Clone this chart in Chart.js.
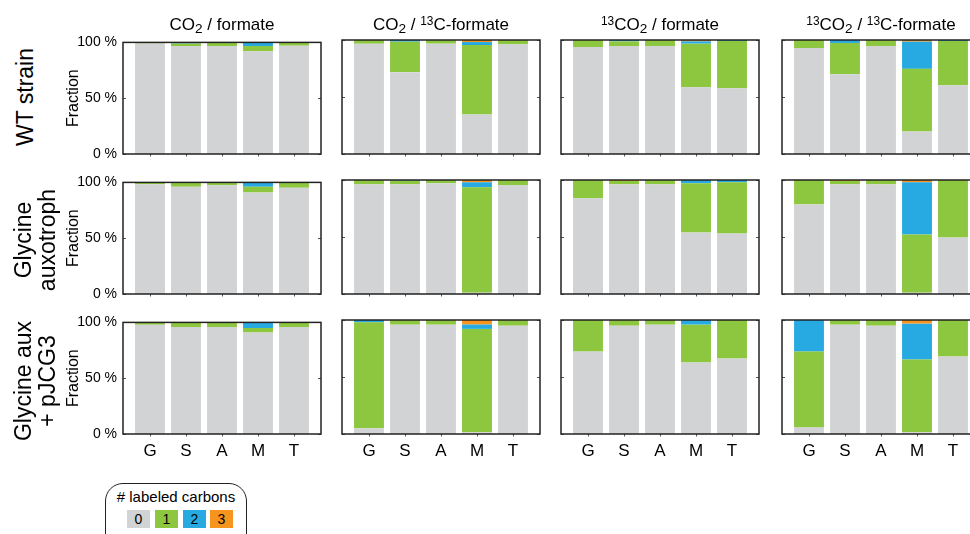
<!DOCTYPE html>
<html>
<head>
<meta charset="utf-8">
<script src="https://cdn.jsdelivr.net/npm/chart.js@4/dist/chart.umd.min.js"></script>
<style>
  html, body { margin: 0; padding: 0; overflow: hidden; background: #fff; }
  body { width: 970px; height: 534px; position: relative; font-family: "Liberation Sans", Arial, sans-serif; color: #000; }
  canvas { position: absolute; }
  .coltitle { position: absolute; top: 15px; width: 198px; text-align: center; font-size: 17px; line-height: 20px; white-space: nowrap; }
  .coltitle sub { font-size: 0.8em; vertical-align: -0.25em; line-height: 0; }
  .coltitle sup { font-size: 0.7em; vertical-align: 0.45em; line-height: 0; }
  .rowlabel { position: absolute; font-size: 23px; line-height: 24px; text-align: center; white-space: nowrap;
              transform: translate(-50%, -50%) rotate(-90deg); }
  .legend { position: absolute; left: 105px; top: 483px; width: 140px; height: 70px; border: 1.5px solid #222; border-radius: 18px; }
  .legend .ttl { position: absolute; left: 0; right: 0; top: 4px; text-align: center; font-size: 15px; }
  .sw { position: absolute; top: 510px; width: 23px; height: 18px; text-align: center; font-size: 14px; line-height: 18px; }
</style>
</head>
<body>
<script>
// amino acids on the x axis
const aminoAcids = ['G', 'S', 'A', 'M', 'T'];
const yTicks = [0, 50, 100];
const carbonLabels = ['0', '1', '2', '3'];
const carbonColors = ['#D1D3D4', '#8DC63F', '#27AAE1', '#F7941D'];

const conditions = [
  'CO<sub>2</sub> / formate',
  'CO<sub>2</sub> / <sup>13</sup>C-formate',
  '<sup>13</sup>CO<sub>2</sub> / formate',
  '<sup>13</sup>CO<sub>2</sub> / <sup>13</sup>C-formate'
];
const strains = ['WT strain', 'Glycine<br>auxotroph', 'Glycine aux<br>+ pJCG3'];

// fraction (%) with 0 / 1 / 2 / 3 labeled carbons, per amino acid
// WT strain
const wt_a_m0 = [99.1, 96.7, 96.7, 92.0, 97.0];
const wt_a_m1 = [0.9, 2.3, 3.3, 4.7, 3.0];
const wt_a_m2 = [0, 1.0, 0, 3.3, 0];
const wt_a_m3 = [0, 0, 0, 0, 0];

const wt_b_m0 = [96.7, 71.8, 96.8, 34.7, 96.2];
const wt_b_m1 = [3.3, 26.7, 3.2, 60.9, 3.8];
const wt_b_m2 = [0, 1.5, 0, 2.6, 0];
const wt_b_m3 = [0, 0, 0, 1.8, 0];

const wt_c_m0 = [93.8, 94.7, 94.7, 58.5, 57.6];
const wt_c_m1 = [6.2, 4.1, 5.3, 38.3, 41.5];
const wt_c_m2 = [0, 1.2, 0, 2.0, 0.9];
const wt_c_m3 = [0, 0, 0, 1.2, 0];

const wt_d_m0 = [92.9, 70.0, 94.7, 19.7, 60.3];
const wt_d_m1 = [7.1, 27.4, 5.3, 55.0, 38.8];
const wt_d_m2 = [0, 2.6, 0, 23.8, 0.9];
const wt_d_m3 = [0, 0, 0, 1.5, 0];

// glycine auxotroph
const aux_a_m0 = [98.3, 96.2, 97.4, 90.9, 95.3];
const aux_a_m1 = [1.7, 3.5, 2.6, 5.3, 4.7];
const aux_a_m2 = [0, 0.3, 0, 3.8, 0];
const aux_a_m3 = [0, 0, 0, 0, 0];

const aux_b_m0 = [96.2, 96.2, 97.1, 1.2, 95.3];
const aux_b_m1 = [3.8, 3.2, 2.9, 92.4, 4.7];
const aux_b_m2 = [0, 0.6, 0, 4.4, 0];
const aux_b_m3 = [0, 0, 0, 2.0, 0];

const aux_c_m0 = [83.9, 96.2, 96.2, 54.0, 53.1];
const aux_c_m1 = [16.1, 2.9, 3.8, 43.1, 44.9];
const aux_c_m2 = [0, 0, 0, 2.9, 2.0];
const aux_c_m3 = [0, 0.9, 0, 0, 0];

const aux_d_m0 = [78.6, 96.2, 96.2, 1.2, 49.6];
const aux_d_m1 = [21.4, 2.9, 3.8, 51.1, 50.4];
const aux_d_m2 = [0, 0, 0, 45.7, 0];
const aux_d_m3 = [0, 0.9, 0, 2.0, 0];

// glycine auxotroph + pJCG3
const pj_a_m0 = [98.0, 95.9, 95.9, 91.0, 95.9];
const pj_a_m1 = [2.0, 4.1, 4.1, 4.0, 4.1];
const pj_a_m2 = [0, 0, 0, 5.0, 0];
const pj_a_m3 = [0, 0, 0, 0, 0];

const pj_b_m0 = [5.0, 95.9, 95.9, 1.5, 95.0];
const pj_b_m1 = [93.0, 4.1, 4.1, 90.7, 5.0];
const pj_b_m2 = [2.0, 0, 0, 3.8, 0];
const pj_b_m3 = [0, 0, 0, 4.0, 0];

const pj_c_m0 = [72.3, 95.0, 95.9, 62.7, 66.2];
const pj_c_m1 = [27.7, 5.0, 4.1, 33.2, 33.8];
const pj_c_m2 = [0, 0, 0, 4.1, 0];
const pj_c_m3 = [0, 0, 0, 0, 0];

const pj_d_m0 = [5.8, 95.9, 95.0, 1.5, 67.9];
const pj_d_m1 = [66.5, 4.1, 5.0, 63.8, 32.1];
const pj_d_m2 = [27.7, 0, 0, 31.5, 0];
const pj_d_m3 = [0, 0, 0, 3.2, 0];

const panels = [
  [[wt_a_m0, wt_a_m1, wt_a_m2, wt_a_m3], [wt_b_m0, wt_b_m1, wt_b_m2, wt_b_m3],
   [wt_c_m0, wt_c_m1, wt_c_m2, wt_c_m3], [wt_d_m0, wt_d_m1, wt_d_m2, wt_d_m3]],
  [[aux_a_m0, aux_a_m1, aux_a_m2, aux_a_m3], [aux_b_m0, aux_b_m1, aux_b_m2, aux_b_m3],
   [aux_c_m0, aux_c_m1, aux_c_m2, aux_c_m3], [aux_d_m0, aux_d_m1, aux_d_m2, aux_d_m3]],
  [[pj_a_m0, pj_a_m1, pj_a_m2, pj_a_m3], [pj_b_m0, pj_b_m1, pj_b_m2, pj_b_m3],
   [pj_c_m0, pj_c_m1, pj_c_m2, pj_c_m3], [pj_d_m0, pj_d_m1, pj_d_m2, pj_d_m3]]
];

// layout of the plot areas (px)
const colLeft = [123, 342, 561, 782];
const rowTop = [40, 180, 320];
const plotW = 198, plotH = 114;
const AXIS_W = 63, AXIS_H = 30, PAD_T = 12, PAD_R = 12;

// box around each plot with small tick marks
const framePlugin = {
  id: 'frame',
  afterDatasetsDraw(chart) {
    const { ctx, chartArea: a, scales: { x, y } } = chart;
    ctx.save();
    ctx.strokeStyle = '#555';
    ctx.lineWidth = 1;
    ctx.beginPath();
    x.ticks.forEach(t => {
      const px = Math.round(x.getPixelForValue(t.value)) + 0.5;
      ctx.moveTo(px, a.bottom); ctx.lineTo(px, a.bottom + 2.5);
    });
    y.ticks.forEach(t => {
      const py = Math.round(y.getPixelForValue(t.value)) + 0.5;
      ctx.moveTo(a.left, py); ctx.lineTo(a.left + 3, py);
      ctx.moveTo(a.right, py); ctx.lineTo(a.right - 3, py);
    });
    ctx.stroke();
    ctx.strokeStyle = '#222';
    ctx.lineWidth = 1.5;
    ctx.strokeRect(a.left, a.top, a.right - a.left, a.bottom - a.top);
    ctx.restore();
  }
};

function makePanel(r, c) {
  const canvas = document.createElement('canvas');
  const w = plotW + AXIS_W + PAD_R, h = plotH + PAD_T + AXIS_H;
  canvas.width = w; canvas.height = h;
  canvas.style.left = (colLeft[c] - AXIS_W) + 'px';
  canvas.style.top = (rowTop[r] - PAD_T) + 'px';
  canvas.style.width = w + 'px'; canvas.style.height = h + 'px';
  document.body.appendChild(canvas);

  const showY = c === 0, showX = r === 2;
  new Chart(canvas, {
    type: 'bar',
    data: {
      datasets: panels[r][c].map((vals, k) => ({
        label: carbonLabels[k],
        data: vals.map((v, i) => ({ x: i + 1, y: v })),
        backgroundColor: carbonColors[k],
        borderWidth: 0,
        categoryPercentage: 1,
        barPercentage: 0.83
      }))
    },
    options: {
      responsive: false,
      animation: false,
      devicePixelRatio: 1,
      layout: { padding: { top: PAD_T, right: PAD_R, left: 0, bottom: 0 } },
      plugins: { legend: { display: false }, tooltip: { enabled: false } },
      scales: {
        x: {
          type: 'linear', stacked: true, offset: false, min: 0.25, max: 5.75,
          grid: { display: false, drawTicks: false }, border: { display: false },
          afterBuildTicks: s => { s.ticks = aminoAcids.map((_, i) => ({ value: i + 1 })); },
          afterFit: s => { s.height = AXIS_H; },
          ticks: {
            display: showX, padding: 7, color: '#000', autoSkip: false, maxRotation: 0,
            font: { family: '"Liberation Sans", Arial, sans-serif', size: 17 },
            callback: v => aminoAcids[v - 1] ?? ''
          }
        },
        y: {
          stacked: true, min: 0, max: 100,
          grid: { display: false, drawTicks: false }, border: { display: false },
          afterBuildTicks: s => { s.ticks = yTicks.map(v => ({ value: v })); },
          afterFit: s => { s.width = AXIS_W; },
          ticks: {
            display: showY, padding: 6, color: '#000',
            font: { family: '"Liberation Sans", Arial, sans-serif', size: 14 },
            callback: v => v + ' %'
          },
          title: {
            display: showY, text: 'Fraction', color: '#000', padding: { top: 4, bottom: 0 },
            font: { family: '"Liberation Sans", Arial, sans-serif', size: 16 }
          }
        }
      }
    },
    plugins: [framePlugin]
  });
}

for (let r = 0; r < 3; r++) {
  for (let c = 0; c < 4; c++) makePanel(r, c);
}

// column titles
conditions.forEach((t, c) => {
  const d = document.createElement('div');
  d.className = 'coltitle';
  d.style.left = colLeft[c] + 'px';
  d.innerHTML = t;
  document.body.appendChild(d);
});

// row labels
const rowLabelPos = [[25, 97], [35, 240], [35, 381]];
strains.forEach((t, r) => {
  const d = document.createElement('div');
  d.className = 'rowlabel';
  d.style.left = rowLabelPos[r][0] + 'px';
  d.style.top = rowLabelPos[r][1] + 'px';
  d.innerHTML = t;
  document.body.appendChild(d);
});

// legend box
const lg = document.createElement('div');
lg.className = 'legend';
lg.innerHTML = '<div class="ttl"># labeled carbons</div>';
document.body.appendChild(lg);
const swatchX = [127, 155, 183, 210];
carbonLabels.forEach((lab, k) => {
  const s = document.createElement('div');
  s.className = 'sw';
  s.style.left = swatchX[k] + 'px';
  s.style.background = carbonColors[k];
  s.textContent = lab;
  document.body.appendChild(s);
});
</script>
</body>
</html>
